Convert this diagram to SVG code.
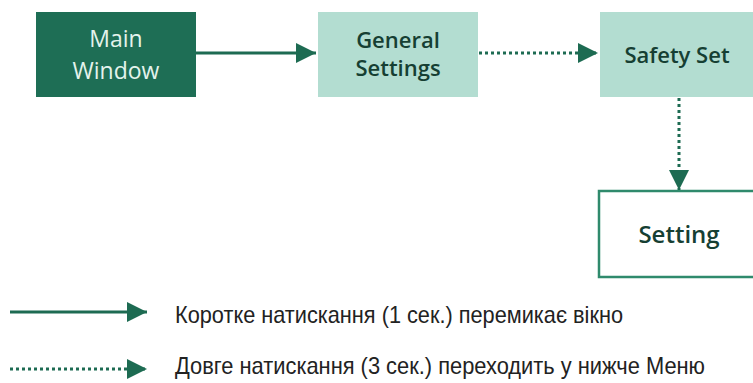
<svg xmlns="http://www.w3.org/2000/svg" width="753" height="383" viewBox="0 0 753 383">
<style>
.box-dark{fill:#1e6e55;}
.box-light{fill:#b3ddd1;}
.box-white{fill:#ffffff;stroke:#2f8a6c;stroke-width:2.5;}
.t-white{font-family:"Open Sans","Noto Sans",sans-serif;font-size:23px;fill:#e4f3ec;text-anchor:middle;}
.t-dark{font-family:"Open Sans","Noto Sans",sans-serif;font-size:22px;font-weight:600;fill:#163f33;text-anchor:middle;}
.conn{stroke:#1d6b52;stroke-width:3;fill:none;}
.dot{stroke-dasharray:3 3;}
.legend{font-family:"Liberation Sans",Arial,sans-serif;font-size:24px;fill:#222222;}
</style>
<defs>
<marker id="ah" markerUnits="userSpaceOnUse" markerWidth="21" markerHeight="21" refX="20" refY="10" orient="auto">
<path d="M0,0 L20,10 L0,20 z" fill="#1d6b52"/>
</marker>
</defs>
<g id="main-window">
<rect class="box-dark" x="36" y="12" width="160" height="85"/>
<text class="t-white" x="116" y="47">Main</text>
<text class="t-white" x="116" y="79">Window</text>
</g>
<g id="general-settings">
<rect class="box-light" x="318" y="12" width="160" height="85"/>
<text class="t-dark" x="398" y="48">General</text>
<text class="t-dark" x="398" y="76">Settings</text>
</g>
<g id="safety-set">
<rect class="box-light" x="600" y="12" width="160" height="85"/>
<text class="t-dark" x="677" y="63">Safety Set</text>
</g>
<g id="setting">
<rect class="box-white" x="599" y="191" width="170" height="86"/>
<text class="t-dark" x="679" y="243" style="font-size:24px">Setting</text>
</g>
<g id="connectors">
<line class="conn" x1="196" y1="53" x2="316" y2="53" marker-end="url(#ah)"/>
<line class="conn dot" x1="479" y1="53" x2="598" y2="53" marker-end="url(#ah)"/>
<line class="conn dot" x1="679" y1="98" x2="679" y2="190" marker-end="url(#ah)"/>
</g>
<g id="legend">
<line class="conn" x1="10" y1="312" x2="147" y2="312" marker-end="url(#ah)"/>
<line class="conn dot" x1="10" y1="369" x2="147" y2="369" marker-end="url(#ah)"/>
<text class="legend" x="175" y="323" textLength="448" lengthAdjust="spacingAndGlyphs">Коротке натискання (1 сек.) перемикає вікно</text>
<text class="legend" x="175" y="374" textLength="530" lengthAdjust="spacingAndGlyphs">Довге натискання (3 сек.) переходить у нижче Меню</text>
</g>
</svg>
